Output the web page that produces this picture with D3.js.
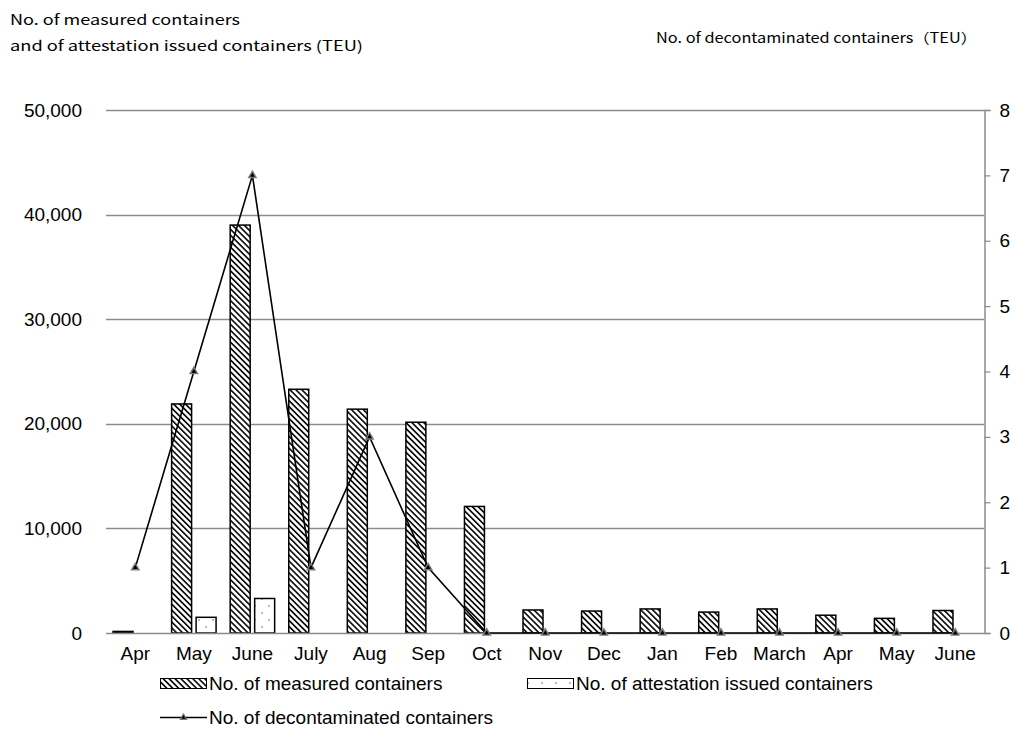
<!DOCTYPE html>
<html><head><meta charset="utf-8">
<script src="https://cdn.jsdelivr.net/npm/d3@7"></script>
<style>
body{margin:0;background:#fff;}
svg{display:block;font-family:"Liberation Sans",Arial,sans-serif;}
</style></head>
<body><svg id="c" width="1015" height="754"></svg>
<script>
const months = ["Apr","May","June","July","Aug","Sep","Oct","Nov","Dec","Jan","Feb","March","Apr","May","June"];
const measured = [150,21900,39000,23300,21400,20150,12100,2200,2100,2300,2000,2300,1700,1400,2150];
const attested = [0,1500,3300,0,0,0,0,0,0,0,0,0,0,0,0];
const decontaminated = [1,4,7,1,3,1,0,0,0,0,0,0,0,0,0];
const leftTicks = [0,10000,20000,30000,40000,50000];
const rightTicks = [0,1,2,3,4,5,6,7,8];
const seriesNames = ["No. of measured containers","No. of attestation issued containers","No. of decontaminated containers"];

const svg = d3.select("#c");
const L=106, R=984.5, T=110, B=633;
const FS = 19;
const idx = d3.range(months.length);
const x = d3.scaleBand().domain(idx).range([L,R]).padding(0);
const sub = d3.scaleBand().domain(["m","a"]).range([0,x.bandwidth()]).paddingInner(0.184).paddingOuter(0.288);
const yL = d3.scaleLinear().domain([0,50000]).range([B,T]);
const yR = d3.scaleLinear().domain([0,8]).range([B,T]);

const defs = svg.append("defs");
const hatch = defs.append("pattern").attr("id","hatch").attr("patternUnits","userSpaceOnUse")
  .attr("width",4.2).attr("height",4.2).attr("patternTransform","rotate(-45)");
hatch.append("rect").attr("width",4.2).attr("height",4.2).attr("fill","#fff");
hatch.append("rect").attr("x",0).attr("width",1.7).attr("height",4.2).attr("fill","#111");
const dots = defs.append("pattern").attr("id","dots").attr("patternUnits","userSpaceOnUse")
  .attr("width",14).attr("height",14);
dots.append("rect").attr("width",14).attr("height",14).attr("fill","#fff");
dots.append("circle").attr("cx",3).attr("cy",4).attr("r",0.9).attr("fill","#999");
dots.append("circle").attr("cx",10).attr("cy",11).attr("r",0.9).attr("fill","#999");

// gridlines
svg.append("g").selectAll("line").data(leftTicks.filter(d=>d>0)).join("line")
  .attr("x1",L).attr("x2",R).attr("y1",d=>Math.round(yL(d))+0.5).attr("y2",d=>Math.round(yL(d))+0.5)
  .attr("stroke","#8c8c8c").attr("stroke-width",1.5);

// left axis labels
const fmt = d3.format(",");
svg.append("g").selectAll("text").data(leftTicks).join("text")
  .attr("x",82).attr("y",d=>yL(d)).attr("dy","0.35em").attr("text-anchor","end")
  .attr("font-size",FS).text(d=>fmt(d));

// right axis
const ra = svg.append("g").attr("transform",`translate(${R},0)`)
  .call(d3.axisRight(yR).tickValues(rightTicks).tickSize(6).tickPadding(9).tickFormat(d3.format("d")));
ra.select(".domain").attr("stroke","#8c8c8c").attr("stroke-width",1.5);
ra.selectAll(".tick line").attr("stroke","#8c8c8c").attr("stroke-width",1.2);
ra.selectAll(".tick text").attr("font-size",FS).attr("fill","#000").attr("font-family","Liberation Sans, Arial, sans-serif");

// bars
svg.append("g").selectAll("rect").data(idx).join("rect")
  .attr("x",i=>x(i)+sub("m")).attr("width",sub.bandwidth())
  .attr("y",i=>yL(measured[i])).attr("height",i=>B-yL(measured[i]))
  .attr("fill","url(#hatch)").attr("stroke","#000").attr("stroke-width",1.5);
svg.append("g").selectAll("rect").data(idx.filter(i=>attested[i]>0)).join("rect")
  .attr("x",i=>x(i)+sub("a")).attr("width",sub.bandwidth())
  .attr("y",i=>yL(attested[i])).attr("height",i=>B-yL(attested[i]))
  .attr("fill","url(#dots)").attr("stroke","#000").attr("stroke-width",1.5);

// x axis baseline
svg.append("line").attr("x1",L).attr("x2",R).attr("y1",B+0.5).attr("y2",B+0.5)
  .attr("stroke","#8c8c8c").attr("stroke-width",1.5);

// month labels
svg.append("g").selectAll("text").data(idx).join("text")
  .attr("x",i=>x(i)+x.bandwidth()/2).attr("y",660).attr("text-anchor","middle")
  .attr("font-size",FS).text(i=>months[i]);

// line series
const line = d3.line().x(i=>x(i)+x.bandwidth()/2).y(i=>yR(decontaminated[i]));
svg.append("path").datum(idx).attr("d",line).attr("fill","none").attr("stroke","#000").attr("stroke-width",1.6);
const tri = d3.symbol().type(d3.symbolTriangle);
const mk = svg.append("g").selectAll("g").data(idx).join("g")
  .attr("transform",i=>`translate(${x(i)+x.bandwidth()/2},${yR(decontaminated[i])})`);
mk.append("path").attr("d",tri.size(42)()).attr("fill","#7a7a7a");
mk.append("path").attr("d",tri.size(10)()).attr("fill","#000");

// titles
const tf = '"Noto Sans CJK JP","Noto Sans",sans-serif';
svg.append("text").attr("x",10).attr("y",25).attr("font-size",14).attr("font-family",tf)
  .attr("textLength",230).attr("lengthAdjust","spacingAndGlyphs").text("No. of measured containers");
svg.append("text").attr("x",10).attr("y",51).attr("font-size",14).attr("font-family",tf)
  .attr("textLength",353).attr("lengthAdjust","spacingAndGlyphs").text("and of attestation issued containers (TEU)");
svg.append("text").attr("x",656).attr("y",43).attr("font-size",14).attr("font-family",tf)
  .attr("textLength",321).attr("lengthAdjust","spacingAndGlyphs").text("No. of decontaminated containers（TEU）");

// legend
const lg = svg.append("g");
lg.append("rect").attr("x",160.5).attr("y",678.5).attr("width",46).attr("height",10)
  .attr("fill","url(#hatch)").attr("stroke","#000").attr("stroke-width",1);
lg.append("text").attr("x",209).attr("y",690).attr("font-size",FS).text(seriesNames[0]);
lg.append("rect").attr("x",527.5).attr("y",678.5).attr("width",46).attr("height",10)
  .attr("fill","url(#dots)").attr("stroke","#000").attr("stroke-width",1);
lg.append("text").attr("x",576).attr("y",690).attr("font-size",FS).text(seriesNames[1]);
lg.append("line").attr("x1",160).attr("x2",207).attr("y1",717.5).attr("y2",717.5).attr("stroke","#000").attr("stroke-width",1.6);
lg.append("path").attr("transform","translate(183.5,717.5)").attr("d",tri.size(30)()).attr("fill","#7a7a7a");
lg.append("path").attr("transform","translate(183.5,717.5)").attr("d",tri.size(8)()).attr("fill","#000");
lg.append("text").attr("x",209).attr("y",724).attr("font-size",FS).text(seriesNames[2]);
</script></body></html>
